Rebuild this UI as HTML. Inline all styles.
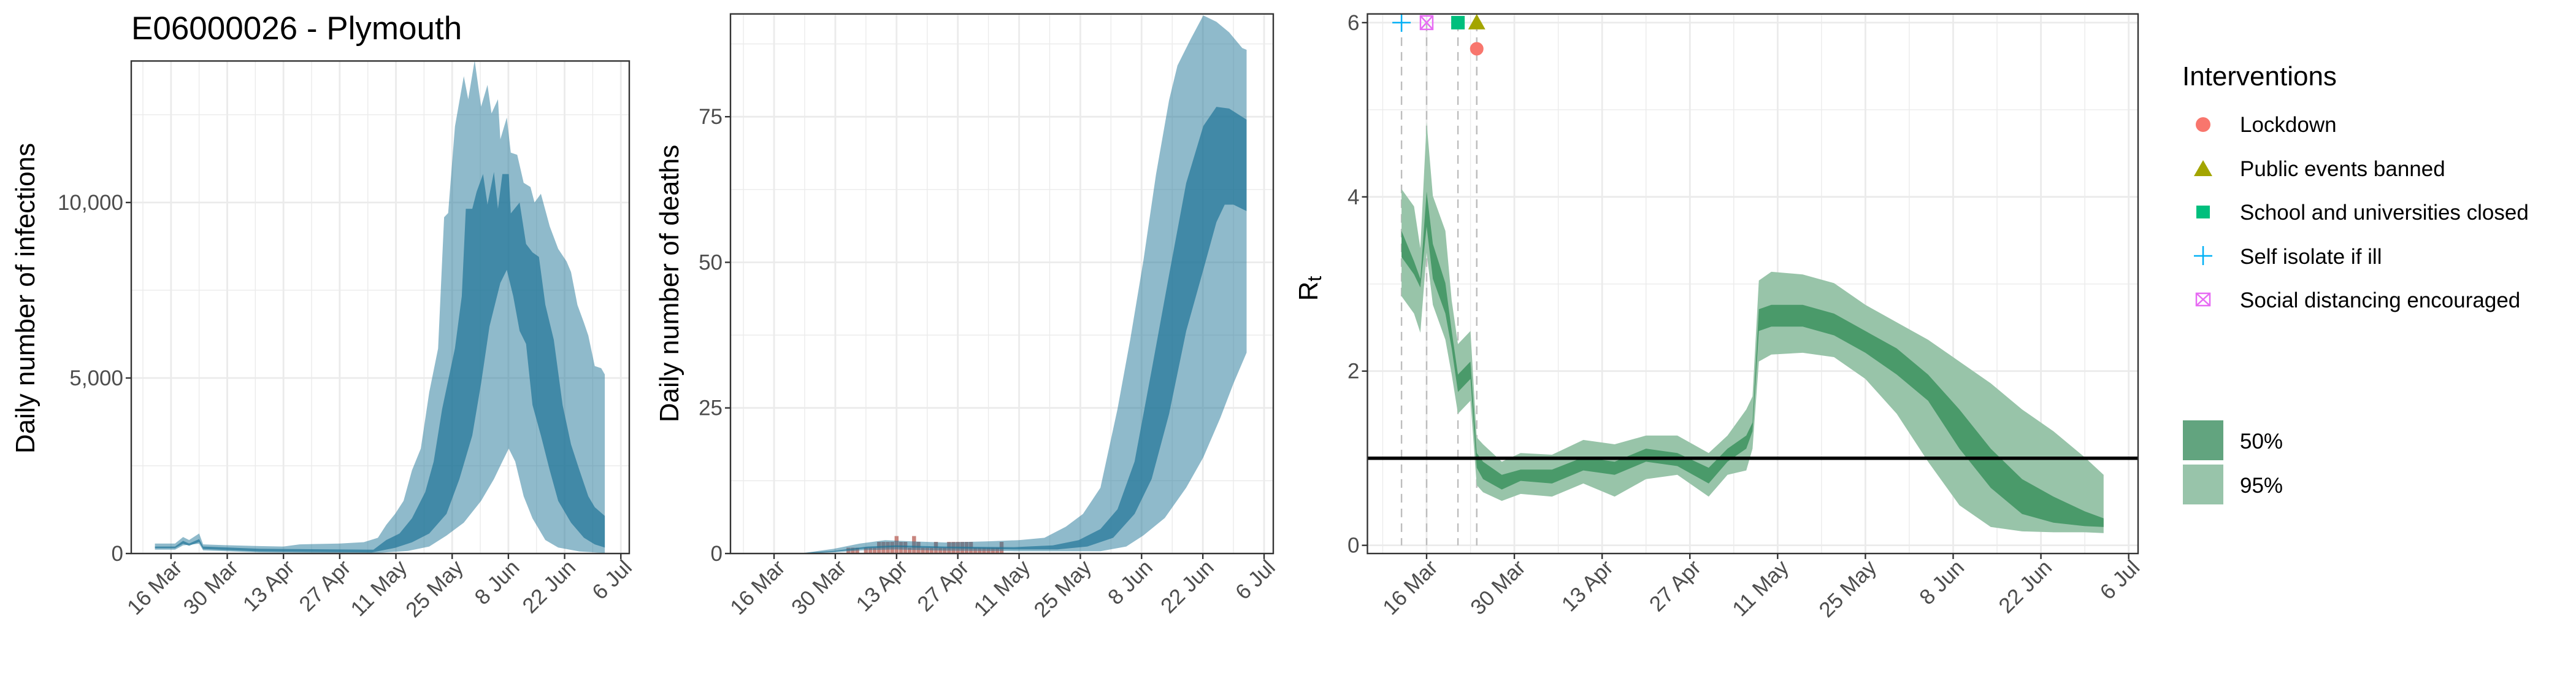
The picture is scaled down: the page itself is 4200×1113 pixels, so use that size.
<!DOCTYPE html>
<html><head><meta charset="utf-8">
<style>
html,body{margin:0;padding:0;background:#fff;}
svg{display:block;font-family:"Liberation Sans",Arial,sans-serif;}
</style></head>
<body>
<svg id="chart" width="4200" height="1113" viewBox="0 0 4200 1113" xmlns="http://www.w3.org/2000/svg">
<text x="214" y="64" font-size="53" fill="#000">E06000026 - Plymouth</text>
<g id="legend">
<text x="3558" y="139" font-size="44" fill="#000">Interventions</text>
<circle cx="3592" cy="203" r="12" fill="#F8766D"/>
<text x="3652" y="215" font-size="35">Lockdown</text>
<polygon points="3577,287 3607,287 3592,261" fill="#A3A500"/>
<text x="3652" y="287" font-size="35">Public events banned</text>
<rect x="3581" y="335" width="22" height="21" fill="#00BF7D"/>
<text x="3652" y="358" font-size="35">School and universities closed</text>
<path d="M3577 417 H3607 M3592 401 V432" stroke="#00B0F6" stroke-width="2.5" fill="none"/>
<text x="3652" y="430" font-size="35">Self isolate if ill</text>
<g stroke="#E76BF3" stroke-width="2.5" fill="none"><rect x="3581" y="478" width="22" height="20"/><path d="M3581 478 L3603 498 M3603 478 L3581 498"/></g>
<text x="3652" y="501" font-size="35">Social distancing encouraged</text>
<rect x="3559" y="685" width="66" height="65" fill="#62A47F"/>
<text x="3652" y="731" font-size="35">50%</text>
<rect x="3559" y="757" width="66" height="65" fill="#98C4AA"/>
<text x="3652" y="803" font-size="35">95%</text>
</g>
</svg>
<script>
// ---- shared axis data (days since 16 Mar 2020) ----
const dateTicks = [0,14,28,42,56,70,84,98,112];
const dateLabels = ["16 Mar","30 Mar","13 Apr","27 Apr","11 May","25 May","8 Jun","22 Jun","6 Jul"];

// ---- infections (panel 1) ----
const infTicks = [0,5000,10000];
const infTickLabels = ["0","5,000","10,000"];
const infU95Days = [-4,1,3,4.5,7,8,14,22,28,32,42,48,51.5,53.6,55.8,57.9,60,62.2,64.3,66.5,68,69,70.7,72.9,74,75.6,77.2,78.8,79.8,81.4,82,83.6,84.6,86.2,87.8,89.5,90.5,92.1,94.3,96.4,98.5,99.6,101.2,102.8,103.9,105.5,107.1,108];
const infU95 = [285,285,470,385,570,260,236,211,199,260,285,323,447,819,1129,1501,2370,2990,4600,5840,9580,9700,12170,13600,12940,14050,12730,13350,12540,12940,11800,12420,11420,11360,10560,10440,10000,10250,9320,8680,8320,8020,7080,6580,6210,5340,5280,5100];
const infL95Days = [-4,1,3,7,8,22,50,59,64.3,68.6,72.9,77.2,80.4,82.5,84.1,85.7,87.8,90,93.2,96.4,101.7,108];
const infL95 = [110,110,230,280,90,30,5,75,200,510,880,1500,2120,2620,2990,2620,1630,1000,385,170,60,12];
const infU50Days = [-4,1,3,4.5,7,8,22,50.4,53.6,56.9,60,63.3,65.4,67.5,70.7,72.4,73.4,75,76.1,77.7,78.8,80.4,81.4,82.5,84.1,84.6,86.8,88.4,90,91.6,93.2,95.3,97.5,99.6,101.7,103.9,105.5,108];
const infU50 = [200,200,360,285,410,200,135,110,385,570,1005,1750,2620,4110,5850,7330,9820,9820,10310,10810,9940,10870,9820,10810,10810,9690,10000,8820,8580,8450,7090,6090,4230,3110,2370,1630,1320,1070];
const infL50Days = [-4,1,3,4.5,7,8,22,50,55.8,60,64.3,68.6,71.8,75,77.2,79.3,80.9,82,83.6,85.2,86.8,88.4,90,92.1,94.3,96.4,99.6,102.8,105.5,108];
const infL50 = [150,150,280,220,330,130,60,30,160,320,570,1130,2120,3360,4850,6470,7210,7710,8080,7330,6340,5970,4230,3360,2370,1500,880,450,260,170];

// ---- deaths (panel 2) ----
const dthTicks = [0,25,50,75];
const dthTickLabels = ["0","25","50","75"];
const dthU95Days = [-7,6.7,13.6,19.5,25.4,31.3,39.1,49,55.9,61.8,66.7,70.6,74.6,78.5,81.4,84.4,87.3,90.3,92.2,95.2,98.1,101.1,104,107,108];
const dthU95 = [0,0.1,0.8,1.7,2.3,2.1,1.9,2.1,2.3,2.7,4.6,6.8,11.3,24.8,36.7,50.2,65.1,77.9,83.8,88.3,92.4,91.3,89.5,86.8,86.5];
const dthL95Days = [-7,6.7,13.6,21.4,27.9,39.1,54.9,64.7,74.6,80.5,84.4,89.3,94.2,98.1,102,105,108];
const dthL95 = [0,0,0.2,0.6,0.7,0.5,0.4,0.4,0.4,1.2,3.1,6.1,11.3,16.5,23.3,29.2,34.5];
const dthU50Days = [-7,6.7,13.6,21.4,27.9,39.1,54.9,63.7,69.6,74.6,78.5,82.4,86.3,90.3,94.2,98.1,101.1,104,108];
const dthU50 = [0,0.1,0.45,1.2,1.4,1.2,1.1,1.4,2.3,4.2,7.6,15.8,31.5,47.9,63.6,73.4,76.7,76.4,74.5];
const dthL50Days = [-7,6.7,13.6,21.4,27.9,39.1,54.9,64.7,71.6,77.5,82.4,86.3,90.3,94.2,98.1,101.1,103,105,108];
const dthL50 = [0,0,0.3,0.9,1.1,0.9,0.7,0.7,1.2,2.7,6.8,12.8,24,38.2,48.7,56.9,59.9,59.9,58.8];
const obsDeathStart = 17;
const obsDeaths = [1,1,1,0,1,1,1,2,2,2,2,3,2,2,1,3,2,1,1,1,2,1,1,2,2,2,2,2,2,1,1,1,1,1,1,2];

// ---- Rt (panel 3) ----
const rtTicks = [0,2,4,6];
const rtTickLabels = ["0","2","4","6"];
const rtDays = [-4,-2,-1,0,1,3,4,5,7,8,9,12,15,20,25,30,35,40,45,48,51,52,53,55,60,65,70,75,80,85,90,95,100,105,108];
const rtU95 = [4.09,3.89,3.41,4.86,4.01,3.61,2.81,2.31,2.46,1.24,1.16,0.96,1.06,1.04,1.21,1.16,1.26,1.26,1.06,1.26,1.56,1.71,3.04,3.14,3.11,3.01,2.76,2.56,2.36,2.11,1.86,1.56,1.31,1.01,0.81];
const rtU50 = [3.61,3.26,3.06,4.06,3.46,3.01,2.46,1.96,2.11,1.06,0.96,0.81,0.87,0.87,1.01,0.96,1.11,1.06,0.89,1.11,1.26,1.41,2.71,2.76,2.76,2.66,2.46,2.26,1.96,1.56,1.11,0.76,0.56,0.39,0.31];
const rtL50 = [3.31,3.11,2.96,3.66,3.06,2.66,2.26,1.76,1.91,0.89,0.76,0.64,0.74,0.71,0.86,0.81,0.96,0.91,0.71,0.96,1.11,1.31,2.46,2.51,2.51,2.41,2.21,1.96,1.66,1.11,0.66,0.36,0.26,0.22,0.21];
const rtL95 = [2.86,2.66,2.44,3.36,2.76,2.36,1.96,1.51,1.66,0.69,0.61,0.51,0.59,0.56,0.71,0.56,0.76,0.81,0.56,0.81,0.86,1.11,2.11,2.19,2.21,2.16,1.91,1.51,0.96,0.46,0.21,0.16,0.15,0.15,0.14];
const interventionNames = ["Self isolate if ill","Social distancing encouraged","School and universities closed","Public events banned","Lockdown"];
const interventionDays = [-4,0,5,8,8];
const interventionY = [6,6,6,6,5.7];

const NS = "http://www.w3.org/2000/svg";
const svg = document.getElementById("chart");
function mk(tag, attrs, parent){const e=document.createElementNS(NS,tag);for(const k in attrs)e.setAttribute(k,attrs[k]);(parent||svg).appendChild(e);return e;}
function scale(d0,d1,r0,r1){return v=>r0+(v-d0)/(d1-d0)*(r1-r0);}

function panel(cfg){
  const g = mk("g",{});
  
  
  const x = scale(cfg.xd[0],cfg.xd[1],cfg.L,cfg.R);
  const y = scale(cfg.yd[0],cfg.yd[1],cfg.B,cfg.T);
  for(const t of cfg.yMinor){const l=mk("line",{x1:cfg.L,x2:cfg.R,y1:y(t),y2:y(t),stroke:"#EBEBEB","stroke-width":1.4},g);}
  for(let d=-7;d<=112;d+=14){const l=mk("line",{x1:x(d),x2:x(d),y1:cfg.T,y2:cfg.B,stroke:"#EBEBEB","stroke-width":1.4},g);}
  for(const t of cfg.yTicks){const l=mk("line",{x1:cfg.L,x2:cfg.R,y1:y(t),y2:y(t),stroke:"#EBEBEB","stroke-width":2.8},g);}
  for(const d of dateTicks){const l=mk("line",{x1:x(d),x2:x(d),y1:cfg.T,y2:cfg.B,stroke:"#EBEBEB","stroke-width":2.8},g);}
  const cid = cfg.name+"-clip";
  const cp = mk("clipPath",{id:cid},g); mk("rect",{x:cfg.L,y:cfg.T,width:cfg.R-cfg.L,height:cfg.B-cfg.T},cp);
  const plot = mk("g",{"clip-path":"url(#"+cid+")"},g);
  
  
  cfg.draw(plot,x,y);
  const b=mk("rect",{x:cfg.L,y:cfg.T,width:cfg.R-cfg.L,height:cfg.B-cfg.T,fill:"none",stroke:"#333333","stroke-width":2.4},g);
  
  
  cfg.yTicks.forEach((t,i)=>{
    mk("line",{x1:cfg.L-9,x2:cfg.L,y1:y(t),y2:y(t),stroke:"#333","stroke-width":2.4},g);
    const tx=mk("text",{x:cfg.L-13,y:y(t)+12,"text-anchor":"end","font-size":35,fill:"#4D4D4D"},g);
    tx.textContent=cfg.yLabels[i];
    
    
  });
  dateTicks.forEach((d,i)=>{
    mk("line",{x1:x(d),x2:x(d),y1:cfg.B,y2:cfg.B+9,stroke:"#333","stroke-width":2.4},g);
    const ax=x(d)+20, ay=cfg.B+25;
    const tx=mk("text",{x:ax,y:ay,"text-anchor":"end","font-size":35,fill:"#4D4D4D",transform:`rotate(-45 ${ax} ${ay})`},g);
    tx.textContent=dateLabels[i];
    
    
  });
  const yt=mk("text",{x:cfg.yTitleX,y:cfg.yTitleY,"text-anchor":"middle","font-size":44,fill:"#000",transform:`rotate(-90 ${cfg.yTitleX} ${cfg.yTitleY})`},g);
  
  
  if(cfg.yTitleHTML){yt.innerHTML=cfg.yTitleHTML;} else yt.textContent=cfg.yTitle;
}

function band(parent,x,y,ud,uv,ld,lv,fill,name){
  let pts=[];
  ud.forEach((d,i)=>pts.push(x(d).toFixed(1)+","+y(uv[i]).toFixed(1)));
  for(let i=ld.length-1;i>=0;i--)pts.push(x(ld[i]).toFixed(1)+","+y(lv[i]).toFixed(1));
  const p=mk("polygon",{points:pts.join(" "),fill:fill},parent);
  
  
}

panel({name:"infections-panel",L:214,R:1026,T:99.4,B:902,xd:[-9.9,114.1],yd:[0,14031],
  yTicks:infTicks,yLabels:infTickLabels,yMinor:[2500,7500,12500],
  yTitle:"Daily number of infections",yTitleX:56,yTitleY:486,
  draw:(g,x,y)=>{
    band(g,x,y,infU95Days,infU95,infL95Days,infL95,"rgba(31,117,151,0.5)","infections-95-band");
    band(g,x,y,infU50Days,infU50,infL50Days,infL50,"rgba(31,117,151,0.7)","infections-50-band");
  }});

panel({name:"deaths-panel",L:1191,R:2076,T:22.7,B:902,xd:[-9.96,114.1],yd:[0,92.65],
  yTicks:dthTicks,yLabels:dthTickLabels,yMinor:[12.5,37.5,62.5,87.5],
  yTitle:"Daily number of deaths",yTitleX:1106,yTitleY:462,
  draw:(g,x,y)=>{
    obsDeaths.forEach((v,i)=>{
      const d=obsDeathStart+i;
      const r=mk("rect",{x:x(d-0.45),y:y(v),width:x(0.9)-x(0),height:y(0)-y(v),fill:"#C8857E"},g);
      
      
    });
    band(g,x,y,dthU95Days,dthU95,dthL95Days,dthL95,"rgba(31,117,151,0.5)","deaths-95-band");
    band(g,x,y,dthU50Days,dthU50,dthL50Days,dthL50,"rgba(31,117,151,0.7)","deaths-50-band");
  }});

panel({name:"rt-panel",L:2229.5,R:3486,T:22.7,B:902,xd:[-9.44,113.5],yd:[-0.094,6.1],
  yTicks:rtTicks,yLabels:rtTickLabels,yMinor:[1,3,5],
  yTitleHTML:'R<tspan font-size="32" dy="6">t</tspan>',yTitleX:2148,yTitleY:470,
  draw:(g,x,y)=>{
    interventionDays.forEach((d,i)=>{
      const l=mk("line",{x1:x(d),x2:x(d),y1:y(6),y2:y(0),stroke:"#BDBDBD","stroke-width":2.4,"stroke-dasharray":"14,10"},g);
      
      
    });
    band(g,x,y,rtDays,rtU95,rtDays,rtL95,"#98C4A9","rt-95-band");
    band(g,x,y,rtDays,rtU50,rtDays,rtL50,"#4A9A6A","rt-50-band");
    const h=mk("line",{x1:2229.5,x2:3486,y1:y(1),y2:y(1),stroke:"#000","stroke-width":5.5},g);
    
    
    interventionNames.forEach((n,i)=>{
      const cx=x(interventionDays[i]), cy=y(interventionY[i]);
      let m;
      if(n==="Lockdown") m=mk("circle",{cx:cx,cy:cy,r:11,fill:"#F8766D"},g);
      else if(n==="Public events banned") m=mk("polygon",{points:`${cx-14},${cy+11} ${cx+14},${cy+11} ${cx},${cy-14}`,fill:"#A3A500"},g);
      else if(n==="School and universities closed") m=mk("rect",{x:cx-11,y:cy-11,width:22,height:22,fill:"#00BF7D"},g);
      else if(n==="Self isolate if ill") m=mk("path",{d:`M${cx-15} ${cy} H${cx+15} M${cx} ${cy-15} V${cy+15}`,stroke:"#00B0F6","stroke-width":2.5,fill:"none"},g);
      else m=mk("path",{d:`M${cx-10} ${cy-11} h20 v22 h-20 z M${cx-10} ${cy-11} L${cx+10} ${cy+11} M${cx+10} ${cy-11} L${cx-10} ${cy+11}`,stroke:"#E76BF3","stroke-width":2.5,fill:"none"},g);
      
      
    });
  }});
</script>
</body></html>
